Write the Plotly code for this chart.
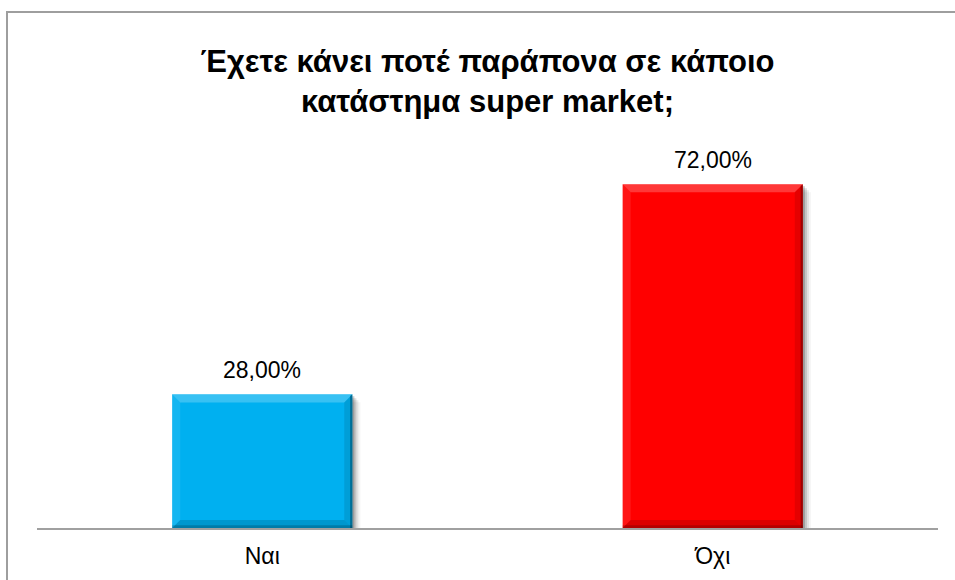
import plotly.graph_objects as go

# Survey answers and shares (%)
categories = ["Ναι", "Όχι"]
values = [28.0, 72.0]
bar_colors = ["#00B0F0", "#FF0000"]
title_lines = ["Έχετε κάνει ποτέ παράπονα σε κάποιο", "κατάστημα super market;"]

FONT = "Arial, 'Liberation Sans', sans-serif"
HALF = 0.2           # half bar width in category units (gap width 150%)
BX, BY = 0.018, 1.7  # bevel size in data units

fig = go.Figure()
fig.add_trace(go.Bar(
    x=list(range(len(categories))), y=values,
    marker=dict(color=bar_colors, line=dict(width=0)),
    width=2 * HALF, hoverinfo="skip",
))

shapes = []
for i, v in enumerate(values):
    x0, x1 = i - HALF, i + HALF
    # soft drop shadow, offset down/right
    for k, op in [(1, 0.20), (2, 0.13), (3, 0.08), (4, 0.04)]:
        dx = 0.0045 * k
        dy = 0.42 * k
        shapes.append(dict(type="rect", xref="x", yref="y", layer="below",
                           x0=x0 + dx, x1=x1 + dx, y0=-dy, y1=v - dy,
                           fillcolor=f"rgba(0,0,0,{op})", line=dict(width=0)))

    # bevel edges
    def poly(pts, color):
        d = "M " + " L ".join(f"{px},{py}" for px, py in pts) + " Z"
        shapes.append(dict(type="path", xref="x", yref="y", path=d,
                           fillcolor=color, line=dict(width=0), layer="above"))
    poly([(x0, v), (x1, v), (x1 - BX, v - BY), (x0 + BX, v - BY)], "rgba(255,255,255,0.22)")
    poly([(x0, v), (x0 + BX, v - BY), (x0 + BX, BY), (x0, 0)], "rgba(255,255,255,0.08)")
    poly([(x1, v), (x1 - BX, v - BY), (x1 - BX, BY), (x1, 0)], "rgba(0,0,0,0.10)")
    poly([(x0, 0), (x0 + BX, BY), (x1 - BX, BY), (x1, 0)], "rgba(0,0,0,0.14)")
    # thin dark outer rim on the right and bottom
    poly([(x1 - 0.005, v - 0.3), (x1, v), (x1, 0), (x1 - 0.005, 0)], "rgba(0,0,0,0.30)")
    poly([(x0, 0), (x1, 0), (x1, 0.6), (x0, 0.6)], "rgba(0,0,0,0.18)")

# chart frame (left and top edges visible)
shapes.append(dict(type="path", xref="paper", yref="paper",
                   path="M -0.0333,-0.2 L -0.0333,1.3508 L 1.1,1.3508",
                   line=dict(color="#9E9E9E", width=2), layer="above"))

annotations = [
    dict(x=i, y=v, xref="x", yref="y", text=f"{v:.2f}".replace(".", ",") + "%",
         showarrow=False, yanchor="bottom", yshift=9,
         font=dict(family=FONT, size=23, color="#000000"))
    for i, v in enumerate(values)
]

fig.update_layout(
    width=955, height=580,
    margin=dict(l=37, r=17, t=146, b=52),
    paper_bgcolor="white", plot_bgcolor="white",
    showlegend=False, bargap=0.6,
    title=dict(text="<b>" + "<br>".join(title_lines) + "</b>",
               x=0.5, xanchor="center", xref="paper",
               y=1 - 72 / 580, yanchor="top",
               font=dict(family=FONT, size=31, color="#000000")),
    xaxis=dict(range=[-0.5, 1.5], tickvals=[0, 1], ticktext=categories,
               showline=True, linecolor="#A0A0A0", linewidth=2,
               showgrid=False, zeroline=False, ticks="",
               ticklabelstandoff=6,
               tickfont=dict(family=FONT, size=23, color="#000000"),
               fixedrange=True),
    yaxis=dict(range=[0, 80], visible=False, fixedrange=True),
    shapes=shapes, annotations=annotations,
)

fig.write_html("out.html")
